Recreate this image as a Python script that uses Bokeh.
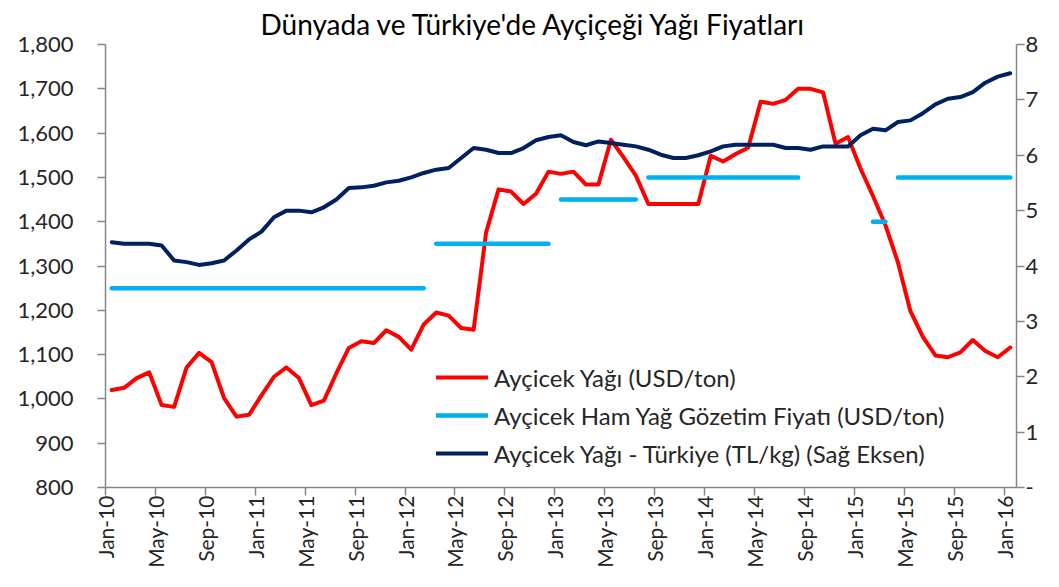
import math
import pandas as pd
from bokeh.plotting import figure
from bokeh.models import (Range1d, LinearAxis, FixedTicker, NumeralTickFormatter,
                          ColumnDataSource, Legend, LegendItem)
from bokeh.embed import file_html
from bokeh.resources import INLINE

# ---------------- data ----------------
months = list(pd.date_range("2010-01-01", periods=73, freq="MS").strftime("%b-%y"))

aycicek_yagi_usd = [
    1020, 1025, 1047, 1060, 986, 982, 1071, 1104, 1083, 1002, 960, 964,
    1008, 1050, 1071, 1047, 986, 996, 1058, 1115, 1130, 1126, 1155, 1140,
    1111, 1168, 1195, 1188, 1160, 1156, 1376, 1473, 1468, 1440, 1463, 1513,
    1508, 1513, 1484, 1484, 1585, 1546, 1504, 1440, 1440, 1440, 1440, 1440,
    1549, 1536, 1553, 1567, 1671, 1666, 1675, 1700, 1700, 1692, 1576, 1591,
    1520, 1458, 1392, 1308, 1198, 1140, 1098, 1094, 1105, 1133, 1108, 1094,
    1116,
]

aycicek_yagi_tr_tlkg = [
    4.43, 4.40, 4.40, 4.40, 4.37, 4.10, 4.07, 4.02, 4.05, 4.10, 4.28, 4.48,
    4.62, 4.88, 5.00, 5.00, 4.97, 5.06, 5.20, 5.41, 5.42, 5.45, 5.51, 5.54,
    5.60, 5.68, 5.74, 5.77, 5.95, 6.13, 6.10, 6.04, 6.04, 6.13, 6.27, 6.33,
    6.36, 6.24, 6.18, 6.25, 6.22, 6.19, 6.16, 6.10, 6.01, 5.95, 5.95, 6.00,
    6.07, 6.16, 6.19, 6.19, 6.19, 6.19, 6.13, 6.13, 6.10, 6.16, 6.16, 6.16,
    6.36, 6.48, 6.45, 6.60, 6.63, 6.76, 6.92, 7.02, 7.05, 7.14, 7.31, 7.42,
    7.48,
]

# Gözetim fiyatı periods (first month, last month, value)
gozetim_start = ["Jan-10", "Mar-12", "Jan-13", "Aug-13", "Feb-15", "Apr-15"]
gozetim_end = ["Feb-12", "Dec-12", "Jul-13", "Aug-14", "Mar-15", "Jan-16"]
gozetim_value = [1250, 1350, 1450, 1500, 1400, 1500]

left_ticks = list(range(800, 1801, 100))
right_ticks = list(range(0, 9))
x_tick_idx = list(range(0, 73, 4))

# ---------------- figure ----------------
FONT = "Lato"
RED = "#FF0000"
LBLUE = "#00B0F0"
NAVY = "#002060"
AXIS = "#868686"
TXT = "#262626"

p = figure(width=1043, height=571, output_backend="svg", toolbar_location=None,
           x_range=Range1d(0, len(months)), y_range=Range1d(800, 1800),
           min_border_left=105, min_border_right=27, min_border_top=44,
           min_border_bottom=84, title="Dünyada ve Türkiye'de Ayçiçeği Yağı Fiyatları")
p.extra_y_ranges = {"right": Range1d(0, 8)}

p.title.text_font = FONT
p.title.text_font_size = "28px"
p.title.text_font_style = "normal"
p.title.text_color = "#000000"
p.title.align = "left"
p.title.offset = 155
p.title.standoff = 7

p.outline_line_color = None
p.xgrid.visible = False
p.ygrid.visible = False
p.background_fill_color = "white"
p.border_fill_color = "white"

x_pts = [i + 0.5 for i in range(len(months))]
idx = {m: i for i, m in enumerate(months)}

red_src = ColumnDataSource(dict(x=x_pts, y=aycicek_yagi_usd))
navy_src = ColumnDataSource(dict(x=x_pts, y=aycicek_yagi_tr_tlkg))
gz_src = ColumnDataSource(dict(
    x0=[idx[m] + 0.5 for m in gozetim_start],
    x1=[idx[m] + 0.5 for m in gozetim_end],
    y=gozetim_value,
))

r_red = p.line("x", "y", source=red_src, line_color=RED, line_width=4,
               line_join="round", line_cap="round")
r_gz = p.segment(x0="x0", y0="y", x1="x1", y1="y", source=gz_src,
                 line_color=LBLUE, line_width=4.5, line_cap="round")
r_navy = p.line("x", "y", source=navy_src, y_range_name="right", line_color=NAVY,
                line_width=4, line_join="round", line_cap="round")

# ---------------- axes ----------------
def style_axis(ax):
    ax.axis_line_color = AXIS
    ax.axis_line_width = 1.5
    ax.major_tick_line_color = AXIS
    ax.major_tick_line_width = 1.5
    ax.major_tick_in = 0
    ax.major_tick_out = 8
    ax.minor_tick_line_color = None
    ax.major_label_text_font = FONT
    ax.major_label_text_font_size = "22px"
    ax.major_label_text_color = TXT

xa = p.xaxis[0]
style_axis(xa)
xa.ticker = FixedTicker(ticks=x_tick_idx)
xa.major_label_overrides = {i: months[i] for i in x_tick_idx}
xa.major_label_orientation = math.pi / 2
xa.major_label_text_font_size = "21px"
xa.major_label_standoff = 0

ya = p.yaxis[0]
style_axis(ya)
ya.ticker = FixedTicker(ticks=left_ticks)
ya.formatter = NumeralTickFormatter(format="0,0")
ya.major_label_standoff = 24

ra = LinearAxis(y_range_name="right", ticker=FixedTicker(ticks=right_ticks))
style_axis(ra)
ra.major_label_overrides = {0: "-"}
ra.major_label_standoff = 1
p.add_layout(ra, "right")

# ---------------- legend ----------------
legend = Legend(items=[
    LegendItem(label="Ayçicek Yağı (USD/ton)", renderers=[r_red]),
    LegendItem(label="Ayçicek Ham Yağ Gözetim Fiyatı (USD/ton)", renderers=[r_gz]),
    LegendItem(label="Ayçicek Yağı - Türkiye (TL/kg) (Sağ Eksen)", renderers=[r_navy]),
], location=(331, 19))
legend.background_fill_alpha = 0
legend.border_line_alpha = 0
legend.padding = 0
legend.margin = 0
legend.spacing = 8
legend.glyph_width = 52
legend.glyph_height = 30
legend.label_height = 30
legend.label_standoff = 6
legend.label_text_font = FONT
legend.label_text_font_size = "24px"
legend.label_text_color = TXT
p.add_layout(legend, "center")

open("out.html", "w").write(file_html(p, INLINE))
